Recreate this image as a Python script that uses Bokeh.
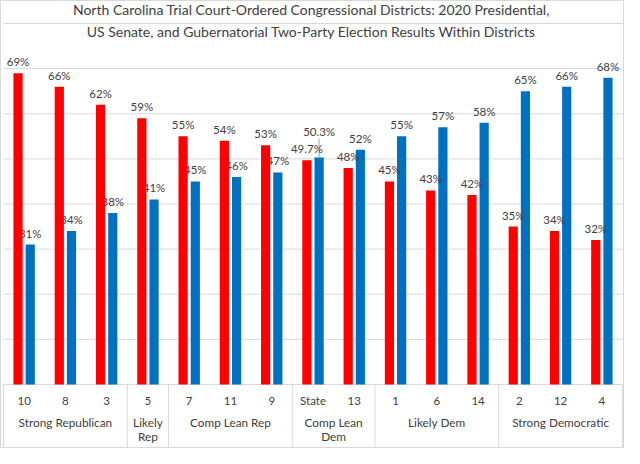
from bokeh.plotting import figure
from bokeh.models import Range1d
from bokeh.core.properties import value
from bokeh.embed import file_html
from bokeh.resources import INLINE

# ---------------- data ----------------
districts = ["10", "8", "3", "5", "7", "11", "9", "State", "13", "1", "6", "14", "2", "12", "4"]
rep = [69, 66, 62, 59, 55, 54, 53, 49.7, 48, 45, 43, 42, 35, 34, 32]
dem = [31, 34, 38, 41, 45, 46, 47, 50.3, 52, 55, 57, 58, 65, 66, 68]
group_lines = [["Strong Republican"], ["Likely", "Rep"], ["Comp Lean Rep"],
               ["Comp Lean", "Dem"], ["Likely Dem"], ["Strong Democratic"]]
group_sizes = [3, 1, 3, 2, 3, 3]
grid_values = [10, 20, 30, 40, 50, 60, 70, 80]
title_lines = ["North Carolina Trial Court-Ordered Congressional Districts: 2020 Presidential,",
               "US Senate, and Gubernatorial Two-Party Election Results Within Districts"]

# ---------------- layout constants ----------------
W, H = 624, 448
FRAME_L, FRAME_R = 3, 622          # px of category span inside figure
TOP80, BASE = 23, 384              # px of 80% line and baseline
n = len(districts)
ux = (FRAME_R - FRAME_L) / n       # px per category
uy = (BASE - TOP80) / 80.0         # px per percent
def dy(px):
    return px / uy

x0 = -FRAME_L / ux
x1 = n + (W - FRAME_R) / ux
y0 = -(H - BASE) / uy
y1 = 80 + TOP80 / uy

RED = "#FF0000"
BLUE = "#0070C0"
GRID = "#d9d9d9"
TXT = "#404040"
FONT = "Lato"

p = figure(width=W, height=H, output_backend="svg", toolbar_location=None,
           x_range=Range1d(x0, x1), y_range=Range1d(y0, y1),
           min_border=0, min_border_left=0, min_border_right=0,
           min_border_top=0, min_border_bottom=0)
p.axis.visible = False
p.grid.visible = False
p.outline_line_color = GRID
p.background_fill_color = "white"
p.border_fill_color = "white"

# gridlines
p.segment(x0=[0] * len(grid_values), x1=[n] * len(grid_values),
          y0=grid_values, y1=grid_values, line_color=GRID, line_width=1)
# baseline
p.segment(x0=[0], x1=[n], y0=[0], y1=[0], line_color=GRID, line_width=1)

# group separators
bounds = [0]
for s in group_sizes:
    bounds.append(bounds[-1] + s)
p.segment(x0=bounds, x1=bounds, y0=[0] * len(bounds), y1=[y0] * len(bounds),
          line_color=GRID, line_width=1)

centers = [i + 0.5 for i in range(n)]
off = 6.1 / ux
bw = 9.2 / ux
rx = [c - off for c in centers]
bx = [c + off for c in centers]

def fmt(v):
    return f"{v:g}%"

# blue labels (drawn before bars, as in reference)
blue_lab_y = []
for i, v in enumerate(dem):
    if districts[i] == "State":
        blue_lab_y.append(v + dy(26))
    else:
        blue_lab_y.append(v + dy(11.5))
p.text(x=bx, y=blue_lab_y, text=[fmt(v) for v in dem], text_font=value(FONT),
       text_font_size="11.5px", text_color=TXT, text_align="center", text_baseline="middle")

# leader line for State dem label
si = districts.index("State")
p.segment(x0=[bx[si]], x1=[bx[si]], y0=[dem[si]], y1=[blue_lab_y[si] - dy(7)],
          line_color="#a6a6a6", line_width=1)

# bars
p.vbar(x=rx, top=rep, bottom=0, width=bw, fill_color=RED, line_color=None)
p.vbar(x=bx, top=dem, bottom=0, width=bw, fill_color=BLUE, line_color=None)

# red labels
p.text(x=rx, y=[v + dy(11.5) for v in rep], text=[fmt(v) for v in rep], text_font=value(FONT),
       text_font_size="11.5px", text_color=TXT, text_align="center", text_baseline="middle")

# district labels
p.text(x=centers, y=[-dy(16)] * n, text=districts, text_font=value(FONT),
       text_font_size="11.5px", text_color=TXT, text_align="center", text_baseline="middle")

# group labels
gx, gy, gt = [], [], []
for k, lines in enumerate(group_lines):
    c = (bounds[k] + bounds[k + 1]) / 2
    for j, t in enumerate(lines):
        gx.append(c)
        gy.append(-dy(38 + 13.5 * j))
        gt.append(t)
p.text(x=gx, y=gy, text=gt, text_font=value(FONT), text_font_size="11.8px",
       text_color=TXT, text_align="center", text_baseline="middle")

# title
p.text(x=[n / 2 - 0.04] * 2, y=[y1 - dy(9), y1 - dy(31)], text=title_lines,
       text_font=value(FONT), text_font_size="14px", text_color=TXT,
       text_align="center", text_baseline="middle")

open("out.html", "w").write(file_html(p, INLINE))
